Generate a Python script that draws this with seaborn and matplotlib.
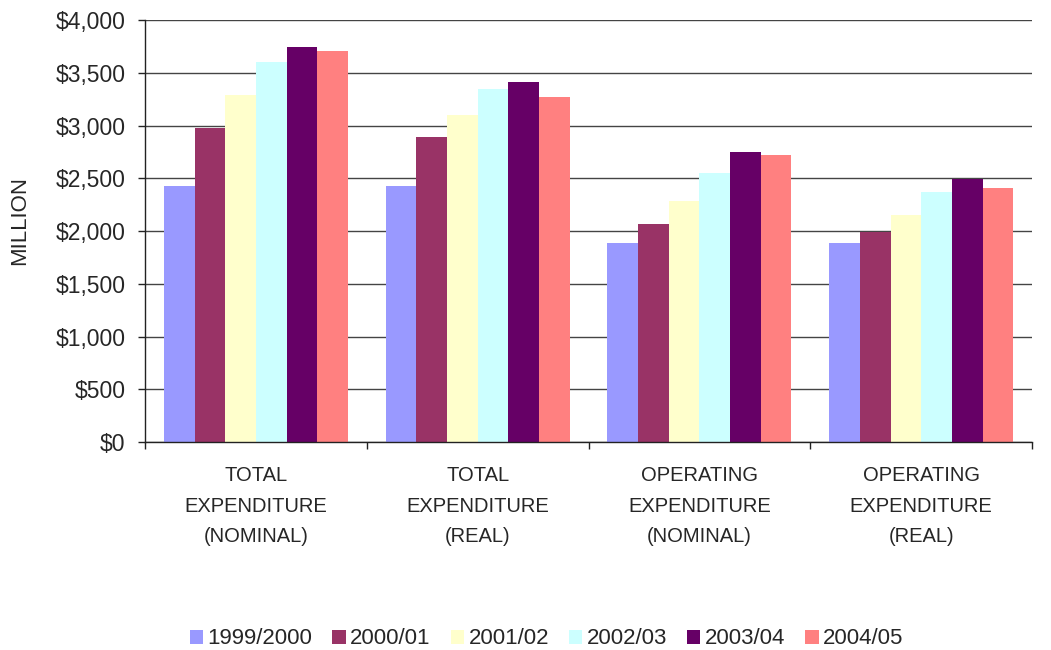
import numpy as np
import pandas as pd
import matplotlib.pyplot as plt
import seaborn as sns
from matplotlib.ticker import FuncFormatter, FixedLocator

# Chart data
categories = [
    "TOTAL\nEXPENDITURE\n(NOMINAL)",
    "TOTAL\nEXPENDITURE\n(REAL)",
    "OPERATING\nEXPENDITURE\n(NOMINAL)",
    "OPERATING\nEXPENDITURE\n(REAL)",
]
years = ["1999/2000", "2000/01", "2001/02", "2002/03", "2003/04", "2004/05"]
values_1999 = [2430, 2430, 1890, 1890]
values_2000 = [2980, 2890, 2070, 1990]
values_2001 = [3290, 3100, 2285, 2150]
values_2002 = [3600, 3345, 2550, 2370]
values_2003 = [3750, 3410, 2750, 2490]
values_2004 = [3710, 3270, 2720, 2410]
colors = ["#9999FF", "#993366", "#FFFFCC", "#CCFFFF", "#660066", "#FF8080"]

series = [values_1999, values_2000, values_2001, values_2002, values_2003, values_2004]
rows = []
for year, vals in zip(years, series):
    for cat, v in zip(categories, vals):
        rows.append({"category": cat, "year": year, "value": v})
df = pd.DataFrame(rows)

sns.set_style("white")
plt.rcParams['font.family'] = ['Liberation Sans', 'DejaVu Sans']

fig = plt.figure(figsize=(10.51, 6.5), dpi=100)
ax = fig.add_axes([0.138, 0.32, 0.844, 0.649])

sns.barplot(data=df, x="category", y="value", hue="year", hue_order=years,
            order=categories, palette=colors, width=0.83, gap=0,
            saturation=1, linewidth=0, errorbar=None, ax=ax, legend=True)

ax.set_ylim(0, 4000)
ax.set_xlim(-0.5, 3.5)
ax.set_yticks(np.arange(0, 4001, 500))
ax.yaxis.set_major_formatter(FuncFormatter(lambda v, p: f"${v:,.0f}"))
ax.yaxis.grid(True, color="#444444", linewidth=1)
ax.set_axisbelow(True)

for s in ["top", "right"]:
    ax.spines[s].set_visible(False)
for s in ["left", "bottom"]:
    ax.spines[s].set_color("#222222")
    ax.spines[s].set_linewidth(1)

ax.tick_params(axis="y", which="major", left=True, length=5, width=1,
               color="#222222", labelsize=16.5, pad=9)
ax.tick_params(axis="x", which="major", bottom=False, pad=14)
ax.xaxis.set_minor_locator(FixedLocator([-0.5, 0.5, 1.5, 2.5, 3.5]))
ax.tick_params(axis="x", which="minor", bottom=True, length=5, width=1, color="#222222")
for lbl in ax.get_xticklabels():
    lbl.set_fontsize(14.5)
    lbl.set_linespacing(1.75)

ax.set_xlabel("")
ax.set_ylabel("MILLION", fontsize=16)
ax.yaxis.set_label_coords(-0.129, 0.525)

handles, labels = ax.get_legend_handles_labels()
ax.get_legend().remove()
fig.legend(handles, labels, loc="center", bbox_to_anchor=(0.52, 0.017),
           ncol=6, frameon=False, fontsize=16, handlelength=0.6,
           handleheight=0.6, handletextpad=0.2, columnspacing=0.9)

fig.savefig("out.png", dpi=100)
